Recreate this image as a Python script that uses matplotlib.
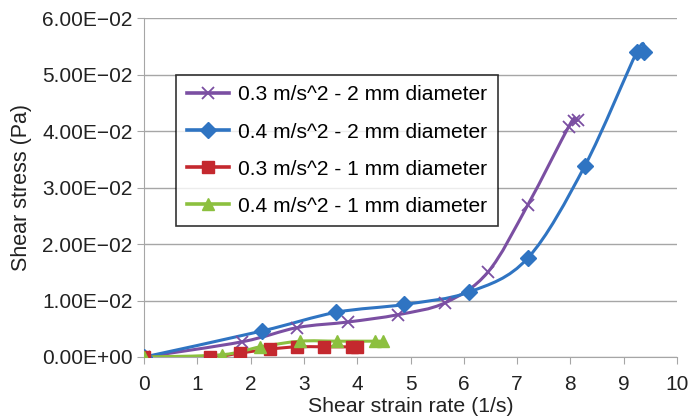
import numpy as np
import matplotlib
matplotlib.use("Agg")
import matplotlib.pyplot as plt
from matplotlib.path import Path
from matplotlib.patches import PathPatch
from matplotlib.lines import Line2D
from matplotlib.ticker import FuncFormatter

plt.rcParams['font.family'] = ['Liberation Sans', 'DejaVu Sans']

# shear strain rate (1/s) and shear stress (Pa) for each run
x_03_2mm = [0, 1.84, 2.87, 3.83, 4.77, 5.65, 6.45, 7.2, 7.97, 8.07, 8.15]
y_03_2mm = [0, 0.0027, 0.0052, 0.0062, 0.0075, 0.0096, 0.0150, 0.0269, 0.0408, 0.0418, 0.0419]
x_04_2mm = [0, 2.21, 3.6, 4.88, 6.1, 7.2, 8.27, 9.25, 9.38]
y_04_2mm = [0, 0.0046, 0.0079, 0.0093, 0.0115, 0.0175, 0.0338, 0.0540, 0.0540]
x_03_1mm = [0, 1.24, 1.8, 2.36, 2.87, 3.38, 3.9, 4.0]
y_03_1mm = [0, 0.0, 0.0007, 0.0014, 0.0018, 0.0018, 0.0018, 0.0018]
x_04_1mm = [0, 1.46, 2.18, 2.93, 3.62, 4.33, 4.48]
y_04_1mm = [0, 0.0004, 0.0018, 0.0028, 0.0028, 0.0028, 0.0028]

labels = ["0.3 m/s^2 - 2 mm diameter", "0.4 m/s^2 - 2 mm diameter",
          "0.3 m/s^2 - 1 mm diameter", "0.4 m/s^2 - 1 mm diameter"]
colors = ["#7B4FA2", "#2F74C2", "#C4282E", "#8CC03F"]
markers = ["x", "D", "s", "^"]
msizes = [9, 8, 8.5, 9]


def smooth_path(xs, ys, t=1 / 6.0):
    # cubic bezier through every point (catmull-rom style control points)
    p = np.column_stack([xs, ys]).astype(float)
    n = len(p)
    verts = [p[0]]
    codes = [Path.MOVETO]
    for i in range(n - 1):
        p0 = p[i - 1] if i > 0 else p[i]
        p3 = p[i + 2] if i + 2 < n else p[i + 1]
        c1 = p[i] + (p[i + 1] - p0) * t
        c2 = p[i + 1] - (p3 - p[i]) * t
        verts += [c1, c2, p[i + 1]]
        codes += [Path.CURVE4] * 3
    return Path(verts, codes)


fig = plt.figure(figsize=(6.9, 4.2), dpi=100)
ax = fig.add_axes([0.209, 0.15, 0.772, 0.807])

series = [(x_03_2mm, y_03_2mm), (x_04_2mm, y_04_2mm),
          (x_03_1mm, y_03_1mm), (x_04_1mm, y_04_1mm)]
handles = []
for (xs, ys), c, m, ms, lab in zip(series, colors, markers, msizes, labels):
    ax.add_patch(PathPatch(smooth_path(xs, ys), fill=False, edgecolor=c,
                           lw=2.2, zorder=3))
    if m == "x":
        ax.plot(xs, ys, ls="none", marker=m, ms=ms, mew=1.3, color=c, zorder=4)
    else:
        ax.plot(xs, ys, ls="none", marker=m, ms=ms, mec=c, mfc=c, zorder=4)
    handles.append(Line2D([], [], color=c, lw=2.6, marker=m, ms=ms,
                          mew=1.3 if m == "x" else 1))

ax.set_xlim(0, 10)
ax.set_ylim(0, 0.06)
ax.set_xticks(np.arange(0, 11, 1))
ax.set_yticks(np.arange(0, 0.0601, 0.01))
ax.yaxis.set_major_formatter(FuncFormatter(lambda v, pos: f"{v:.2E}".replace("-", "\u2212")))
ax.grid(axis="y", color="#A6A6A6", lw=1)
ax.set_axisbelow(True)
for s in ["top", "right"]:
    ax.spines[s].set_visible(False)
for s in ["left", "bottom"]:
    ax.spines[s].set_color("#A6A6A6")
ax.tick_params(colors="#A6A6A6", labelcolor="#222222", labelsize=15, length=5)
ax.tick_params(axis="x", pad=8)
ax.set_xlabel("Shear strain rate (1/s)", fontsize=15.3, color="#222222", labelpad=2)
ax.set_ylabel("Shear stress (Pa)", fontsize=15.5, color="#222222", labelpad=7)

leg = ax.legend(handles, labels, loc="upper left", bbox_to_anchor=(0.06, 0.832),
                borderaxespad=0, fontsize=15.1, frameon=True, fancybox=False,
                handlelength=2.0, handletextpad=0.47, borderpad=0.5,
                labelspacing=0.86)
leg.get_frame().set_edgecolor("black")
leg.get_frame().set_linewidth(1.2)

fig.savefig("out.png", dpi=100)
